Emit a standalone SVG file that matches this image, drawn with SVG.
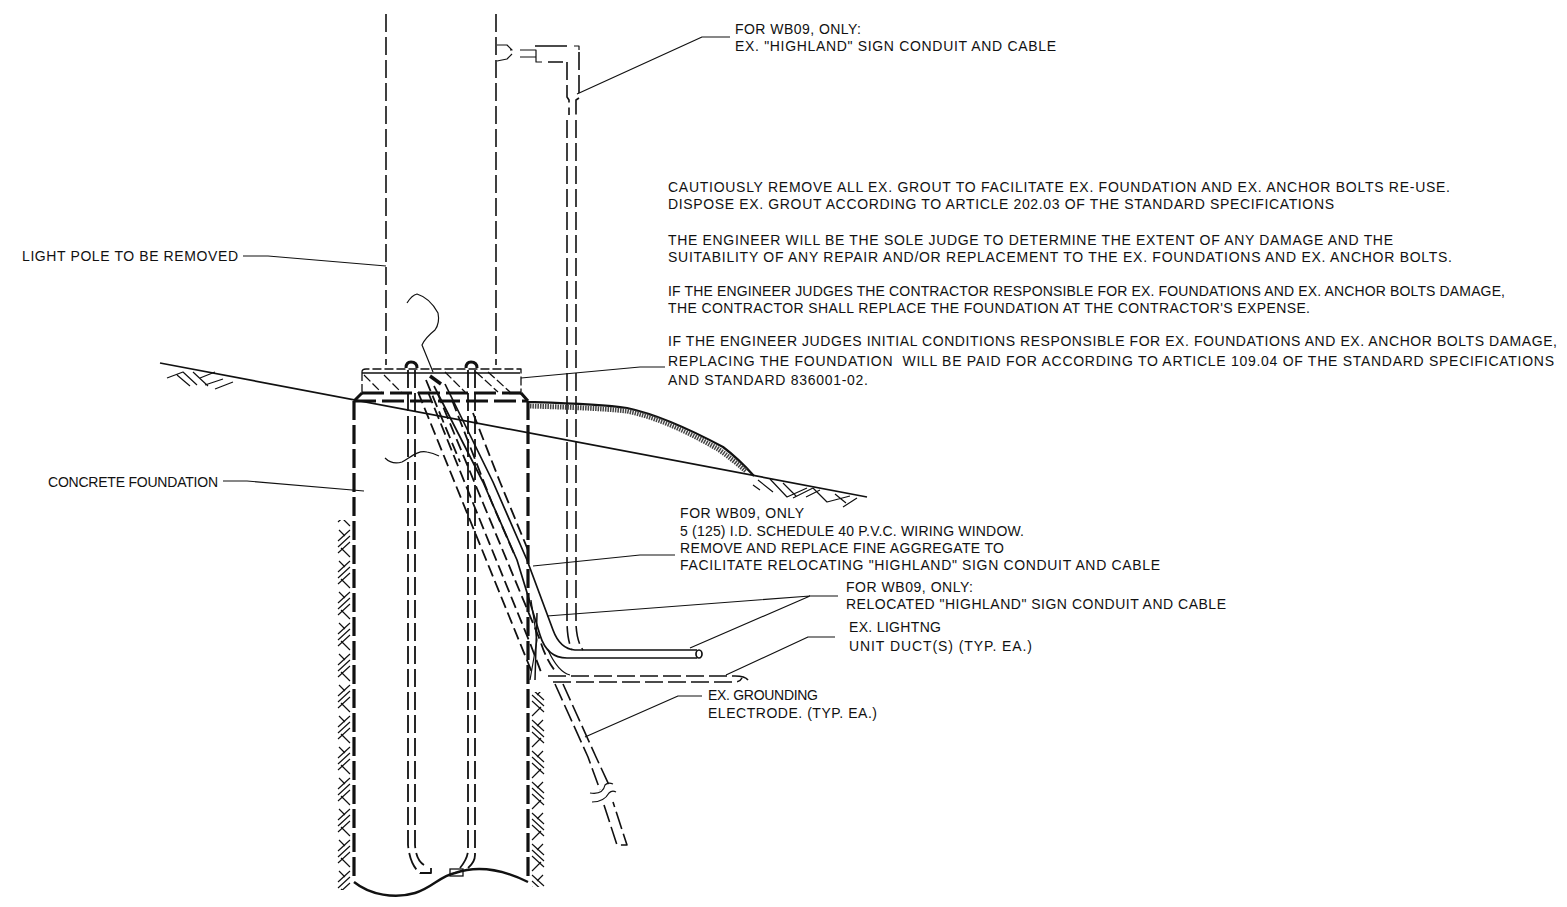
<svg xmlns="http://www.w3.org/2000/svg" width="1567" height="907" viewBox="0 0 1567 907">
<style>
text{font-family:"Liberation Sans",Arial,sans-serif;font-size:14px;fill:#111}
path,line,ellipse{fill:none;stroke:#111;stroke-linecap:butt;stroke-linejoin:round}
.thin{stroke-width:1.2}
.solid{stroke-width:1.7}
.dash{stroke-width:1.6;stroke-dasharray:18 5}
.sdash{stroke-width:1.6;stroke-dasharray:18 5}
.cdash{stroke-width:1.8;stroke-dasharray:12 5}
.heavy{stroke-width:3.2;stroke-dasharray:19 5}
.hd{stroke-width:3.2;stroke-dasharray:22 6}
.tiny{stroke-width:1.3;stroke-dasharray:9 3}
.hatch{stroke-width:5;stroke:#444;stroke-dasharray:1.5 1}
</style>
<defs>
<pattern id="herr" width="16" height="31" patternUnits="userSpaceOnUse">
<path class="thin" d="M2,14L14,3M2,20L14,9M2,26L14,15M3,3L9,9M5,21L14,30"/>
</pattern>
<pattern id="herr-r" width="16" height="31" patternUnits="userSpaceOnUse" patternTransform="translate(2 4) scale(-1 1)">
<path class="thin" d="M2,14L14,3M2,20L14,9M2,26L14,15M3,3L9,9M5,21L14,30"/>
</pattern>
</defs>
<rect width="1567" height="907" fill="#fff"/>

<g id="pole">
<path class="dash" d="M386,14V365M496,14V365"/>
</g>

<g id="existing-sign-conduit">
<path class="thin" d="M497,45H507L512,50H510M497,61L507,59L512,54"/>
<path class="thin" d="M520,50H536V62H542M520,57H536"/>
<path class="solid" d="M535,46H567M548,62H563"/>
<path class="thin" d="M574,46H579V50"/>
<path class="sdash" d="M579,52V98L576,100V115"/>
<path class="sdash" d="M567,62V97L569,100V115"/>
<path class="sdash" d="M567,120V620Q567,640 572,650M576,120V625Q577,642 583,650"/>
</g>

<g id="base-plate">
<path class="tiny" d="M362,372Q362,369 366,369H521V393M362,372V393"/>
<path class="solid" d="M362,373H520"/>
<path class="tiny" d="M364,375L382,393M384,375L402,393M488,372L510,392M476,372L498,392M445,372L465,392"/>
</g>

<g id="foundation">
<path class="hd" d="M362,393H521"/>
<path class="hd" d="M354,401H528"/>
<path style="stroke-width:3" d="M354,401L362,393M528,401L521,393"/>
<path class="heavy" d="M354,401V880M528,401V880"/>
<path style="stroke-width:2.4" d="M354,882C370,895 395,899 415,893C432,888 440,876 455,873C475,866 500,868 528,882"/>
<rect x="450" y="869" width="13" height="7" fill="none" stroke="#111" stroke-width="1.3"/>
<path class="thin" d="M385,458Q392,465 402,462C410,458 417,450 427,452Q433,453 439,456"/>
</g>

<g id="anchor-bolts">
<path class="sdash" style="stroke-width:1.8" d="M408,370V845Q410,865 420,873H431V868M415,370V845Q416,860 424,865"/>
<path class="sdash" style="stroke-width:1.8" d="M468,370V850Q468,858 460,868M475,370V855Q475,862 468,868"/>
<path style="stroke-width:3" d="M406,368Q406,362 411,362Q417,362 417,368M466,368Q466,362 471,362Q477,362 477,368"/>
</g>

<g id="ground">
<path class="solid" d="M160,363L867,497"/>
<path style="stroke-width:2.2" d="M528,402C560,403 600,404 627,408C660,415 695,432 723,447C735,456 745,466 754,476"/>
<path class="hatch" d="M530,406C560,407 600,408 627,411C660,418 690,433 718,449C728,456 738,464 746,471"/>
<path class="thin" d="M167,378L183,372L197,385M177,375L190,386M193,372L208,386M200,378L215,372M205,385L223,379M215,389L233,382"/>
<path class="thin" d="M753,485L760,490M758,480L773,492M770,479L787,497L807,488M783,483L796,496M793,498L813,488L827,502L850,496M806,497L820,490M843,507L857,498M835,494L846,503"/>
<rect x="336" y="520" width="16" height="370" fill="url(#herr)"/>
<rect x="531" y="692" width="15" height="195" fill="url(#herr-r)"/>
</g>

<g id="existing-conduits">
<path class="cdash" d="M418,392L463,503L520,643L533,675"/>
<path class="cdash" d="M428,392L473,503L530,643L541,672"/>
<path class="cdash" d="M437,392L483,503L540,640Q546,660 556,672"/>
<path class="cdash" d="M473,413L500,482L530,555"/>
<path class="cdash" d="M426,380L460,462"/>
<path class="cdash" d="M452,400L492,503L515,556"/>
<path class="thin" d="M530,680L537,640L531,600M548,650Q558,672 570,675"/>
<path style="stroke-width:1.5" d="M537,613L535,680"/>
</g>

<g id="relocated-conduit">
<path class="solid" d="M445,384L493,482L527,560L553,630Q560,649 575,650H697"/>
<path class="solid" d="M434,386L483,482L517,560L540,635Q547,658 567,658H697"/>
<ellipse class="solid" cx="699" cy="654" rx="3" ry="4"/>
<path style="stroke-width:3.5" d="M430,376L441,384"/>
<path class="thin" d="M407,303Q412,295 417,294Q430,298 438,313Q440,323 435,330Q425,338 422,345L433,372"/>
</g>

<g id="lighting-duct">
<path class="sdash" d="M548,676H735Q745,676 748,680M553,682H735Q740,682 742,678"/>
</g>

<g id="grounding-electrode">
<path class="sdash" d="M555,684L588,757L600,790M563,684L596,757L609,785"/>
<path class="sdash" d="M604,805L617,845L627,845L613,802"/>
<path class="thin" d="M590,793Q603,795 605,785Q608,782 613,784M592,802Q604,802 609,793Q612,790 616,792"/>
</g>

<g id="connectors">
<path class="thin" d="M577,94L702,37H730"/>
<path class="thin" d="M243,256H268L386,266"/>
<path class="thin" d="M223,481H247L364,491"/>
<path class="thin" d="M521,378L640,367H665"/>
<path class="thin" d="M533,566L640,555H675"/>
<path class="thin" d="M547,616L810,596H838M810,596L690,648"/>
<path class="thin" d="M726,675L808,637H835"/>
<path class="thin" d="M585,737L678,696H702"/>
</g>

<g id="labels">
<text x="735" y="34" textLength="126">FOR WB09, ONLY:</text>
<text x="735" y="51" textLength="321">EX. "HIGHLAND" SIGN CONDUIT AND CABLE</text>
<text x="668" y="192" textLength="782">CAUTIOUSLY REMOVE ALL EX. GROUT TO FACILITATE EX. FOUNDATION AND EX. ANCHOR BOLTS RE-USE.</text>
<text x="668" y="209" textLength="666">DISPOSE EX. GROUT ACCORDING TO ARTICLE 202.03 OF THE STANDARD SPECIFICATIONS</text>
<text x="668" y="245" textLength="725">THE ENGINEER WILL BE THE SOLE JUDGE TO DETERMINE THE EXTENT OF ANY DAMAGE AND THE</text>
<text x="668" y="262" textLength="784">SUITABILITY OF ANY REPAIR AND/OR REPLACEMENT TO THE EX. FOUNDATIONS AND EX. ANCHOR BOLTS.</text>
<text x="668" y="296" textLength="837">IF THE ENGINEER JUDGES THE CONTRACTOR RESPONSIBLE FOR EX. FOUNDATIONS AND EX. ANCHOR BOLTS DAMAGE,</text>
<text x="668" y="313" textLength="642">THE CONTRACTOR SHALL REPLACE THE FOUNDATION AT THE CONTRACTOR'S EXPENSE.</text>
<text x="668" y="346" textLength="889">IF THE ENGINEER JUDGES INITIAL CONDITIONS RESPONSIBLE FOR EX. FOUNDATIONS AND EX. ANCHOR BOLTS DAMAGE,</text>
<text x="668" y="366" textLength="886" xml:space="preserve">REPLACING THE FOUNDATION  WILL BE PAID FOR ACCORDING TO ARTICLE 109.04 OF THE STANDARD SPECIFICATIONS</text>
<text x="668" y="385" textLength="200">AND STANDARD 836001-02.</text>
<text x="22" y="261" textLength="216">LIGHT POLE TO BE REMOVED</text>
<text x="48" y="487" textLength="170">CONCRETE FOUNDATION</text>
<text x="680" y="518" textLength="124">FOR WB09, ONLY</text>
<text x="680" y="536" textLength="344">5 (125) I.D. SCHEDULE 40 P.V.C. WIRING WINDOW.</text>
<text x="680" y="553" textLength="324">REMOVE AND REPLACE FINE AGGREGATE TO</text>
<text x="680" y="570" textLength="480">FACILITATE RELOCATING "HIGHLAND" SIGN CONDUIT AND CABLE</text>
<text x="846" y="592" textLength="127">FOR WB09, ONLY:</text>
<text x="846" y="609" textLength="380">RELOCATED "HIGHLAND" SIGN CONDUIT AND CABLE</text>
<text x="849" y="632" textLength="92">EX. LIGHTNG</text>
<text x="849" y="651" textLength="183">UNIT DUCT(S) (TYP. EA.)</text>
<text x="708" y="700" textLength="110">EX. GROUNDING</text>
<text x="708" y="718" textLength="169">ELECTRODE. (TYP. EA.)</text>
</g>
</svg>
